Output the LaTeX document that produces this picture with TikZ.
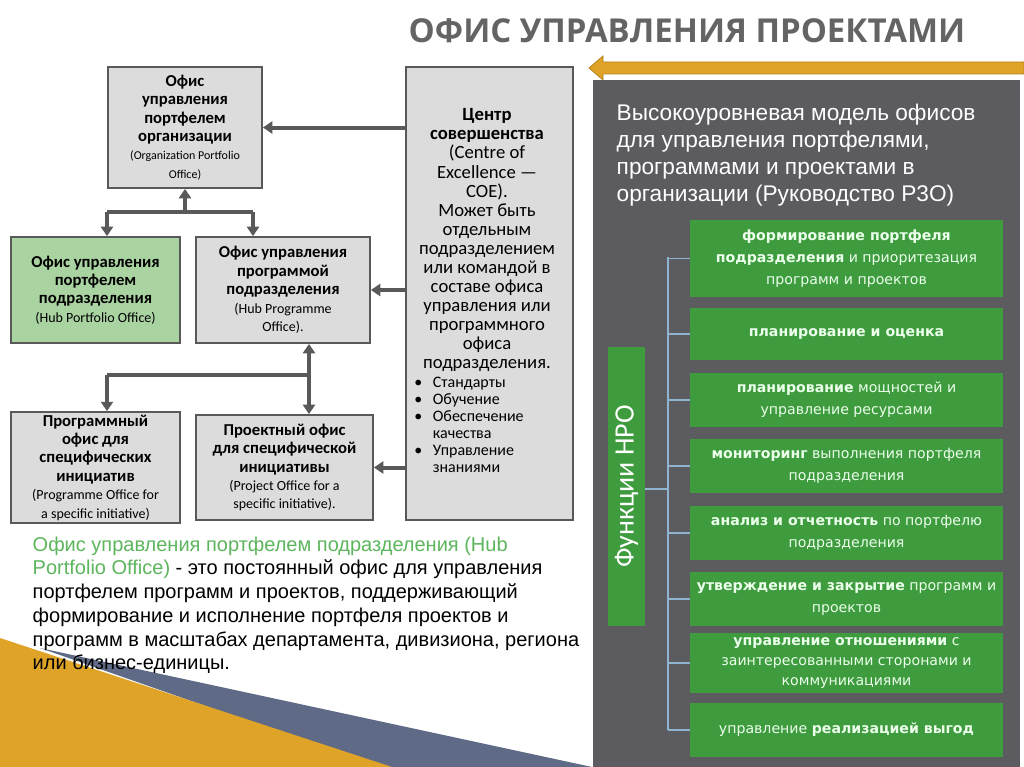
\documentclass[tikz,border=0pt]{standalone}
\usepackage{fontspec}
\setmainfont{Carlito}
\newfontfamily\arialf{Liberation Sans}
\newfontfamily\dejaf{DejaVu Sans}
\newfontfamily\openf{Open Sans}
\usetikzlibrary{arrows.meta}
\definecolor{boxgray}{HTML}{DCDCDC}
\definecolor{lineg}{HTML}{595959}
\definecolor{hubgreen}{HTML}{A9D3A0}
\definecolor{panel}{HTML}{5B5B60}
\definecolor{fgreen}{HTML}{3E9B3E}
\definecolor{gold}{HTML}{DFA328}
\definecolor{goldd}{HTML}{B9801A}
\definecolor{txtgreen}{HTML}{5DB65D}
\definecolor{titleg}{HTML}{646464}
\definecolor{conn}{HTML}{8FB4D0}
\definecolor{stripe}{HTML}{5E6A86}
\newcommand{\engA}{\mdseries\fontsize{10.5}{13}\selectfont}
\newcommand{\engB}{\mdseries\fontsize{9}{11}\selectfont}
\begin{document}
\begin{tikzpicture}[x=0.75pt,y=-0.75pt,
  box/.style={draw=lineg,line width=1.4pt,fill=boxgray,align=center,inner sep=2pt,font=\fontsize{12.5}{13.8}\selectfont\bfseries},
  link/.style={draw=lineg,line width=3pt},
  arr/.style={link,-{Triangle[length=7pt,width=9pt]}},
  darr/.style={link,{Triangle[length=7pt,width=9pt]}-{Triangle[length=7pt,width=9pt]}},
  fbox/.style={fill=fgreen,draw=none,minimum width=234.75pt,align=center,text=white!92!green,font=\dejaf\fontsize{10.6}{16.5}\selectfont},
  tick/.style={draw=conn,line width=0.8pt}]
\useasboundingbox (0,0) rectangle (1024,767);
\fill[white] (0,0) rectangle (1024,767);
% bottom-left decoration
\fill[stripe] (40,648) -- (592,767) -- (380,767) -- cycle;
\fill[gold] (0,638) -- (392,767) -- (0,767) -- cycle;
% title
\node[font=\openf\bfseries\fontsize{24.7}{28}\selectfont,text=titleg] (title) at (687,31) {ОФИС УПРАВЛЕНИЯ ПРОЕКТАМИ};
% right panel
\fill[panel] (593,80) rectangle (1020,767);
\fill[gold,draw=goldd,line width=0.6pt] (1024,62) -- (603,62) -- (603,56) -- (589,68) -- (603,80) -- (603,74) -- (1024,74) -- cycle;
\node[anchor=north west,align=left,text=white,font=\arialf\fontsize{17}{20.3}\selectfont] (ptext) at (612,99)
 {Высокоуровневая модель офисов\\для управления портфелями,\\программами и проектами в\\организации (Руководство P3O)};
% green boxes
\node[fbox,minimum height=57.75pt] (g1) at (846.5,258.5) {\textbf{формирование портфеля}\\\textbf{подразделения} и приоритезация\\программ и проектов};
\node[fbox,minimum height=39pt] (g2) at (846.5,334) {\textbf{планирование и оценка}};
\node[fbox,minimum height=40.5pt] (g3) at (846.5,400) {\textbf{планирование} мощностей и\\управление ресурсами};
\node[fbox,minimum height=40.5pt] (g4) at (846.5,466) {\textbf{мониторинг} выполнения портфеля\\подразделения};
\node[fbox,minimum height=40.5pt] (g5) at (846.5,533) {\textbf{анализ и отчетность} по портфелю\\подразделения};
\node[fbox,minimum height=40.5pt] (g6) at (846.5,599) {\textbf{утверждение и закрытие} программ и\\проектов};
\node[fbox,minimum height=40.5pt,font=\dejaf\fontsize{10.6}{14.8}\selectfont] (g7) at (846.5,663) {\textbf{управление отношениями} с\\заинтересованными сторонами и\\коммуникациями};
\node[fbox,minimum height=40.5pt] (g8) at (846.5,730) {управление \textbf{реализацией выгод}};
\node[fill=fgreen,minimum width=27.75pt,minimum height=209.25pt,inner sep=0pt] (hpo) at (626.5,486.5) {};
\node[rotate=90,text=white,font=\fontsize{21}{23}\selectfont] (hpol) at (hpo.center) {Функции HPO};
\coordinate (bt) at (668,257);
\coordinate (bb) at (668,730);
\draw[tick] (bt) -- (bb);
\draw[tick] (hpo.east |- 0,489) -- (668,489);
\foreach \g in {g1,g2,g3,g4,g5,g6,g7,g8}{\draw[tick] (668,0 |- \g.west) -- (\g.west);}
% left diagram
\node[box,minimum width=115.5pt,minimum height=90.75pt] (org) at (185,127.5)
 {Офис\\управления\\портфелем\\организации\\{\engB(Organization Portfolio}\\{\engB Office)}};
\node[box,fill=hubgreen,minimum width=126.75pt,minimum height=79.5pt] (hubp) at (95.5,290)
 {Офис управления\\портфелем\\подразделения\\{\engA(Hub Portfolio Office)}};
\node[box,minimum width=130.5pt,minimum height=79.5pt] (hprog) at (283,290)
 {Офис управления\\программой\\подразделения\\{\engA(Hub Programme}\\{\engA Office).}};
\node[box,minimum width=126.75pt,minimum height=78.75pt] (pspec) at (95.5,467.5)
 {Программный\\офис для\\специфических\\инициатив\\{\engA(Programme Office for}\\{\engA a specific initiative)}};
\node[box,minimum width=132.75pt,minimum height=78.75pt] (proj) at (284.5,467.5)
 {Проектный офис\\для специфической\\инициативы\\{\engA(Project Office for a}\\{\engA specific initiative).}};
\node[box,minimum width=125.25pt,minimum height=339.75pt] (coe) at (489.5,293.5) {};
\node[anchor=north,align=center,font=\fontsize{14}{14.3}\selectfont] (coet) at (487,104)
 {\textbf{Центр}\\\textbf{совершенства}\\(Centre of\\Excellence —\\COE).\\Может быть\\отдельным\\подразделением\\или командой в\\составе офиса\\управления или\\программного\\офиса\\подразделения.};
\node[anchor=north west,align=left,inner sep=0pt,font=\fontsize{12}{12.8}\selectfont] (coel) at (414,375)
 {\begin{tabular}{@{}l@{\hspace{8pt}}l@{}}•&Стандарты\\•&Обучение\\•&Обеспечение\\&качества\\•&Управление\\&знаниями\end{tabular}};
% connectors
\draw[arr] (coe.west |- org.east) -- (org.east);
\draw[arr] (coe.west |- hprog.east) -- (hprog.east);
\draw[arr] (coe.west |- proj.east) -- (proj.east);
\coordinate (jl) at (107,212);
\coordinate (jr) at (253,212);
\coordinate (jm) at (185,212);
\draw[link] (jl) -- (jr);
\draw[arr] (jm) -- (org.south);
\draw[arr] (jl) -- (jl |- hubp.north);
\draw[arr] (jr) -- (jr |- hprog.north);
\coordinate (kl) at (107,375);
\coordinate (kr) at (309,375);
\draw[link] (kl) -- (kr);
\draw[darr] (kr |- hprog.south) -- (kr |- proj.north);
\draw[arr] (kl) -- (kl |- pspec.north);
% bottom text
\node[anchor=north west,align=left,font=\arialf\fontsize{15}{17.8}\selectfont] (para) at (28,532)
 {{\color{txtgreen}Офис управления портфелем подразделения (Hub}\\{\color{txtgreen}Portfolio Office)} - это постоянный офис для управления\\портфелем программ и проектов, поддерживающий\\формирование и исполнение портфеля проектов и\\программ в масштабах департамента, дивизиона, региона\\или бизнес-единицы.};
\end{tikzpicture}
\end{document}
